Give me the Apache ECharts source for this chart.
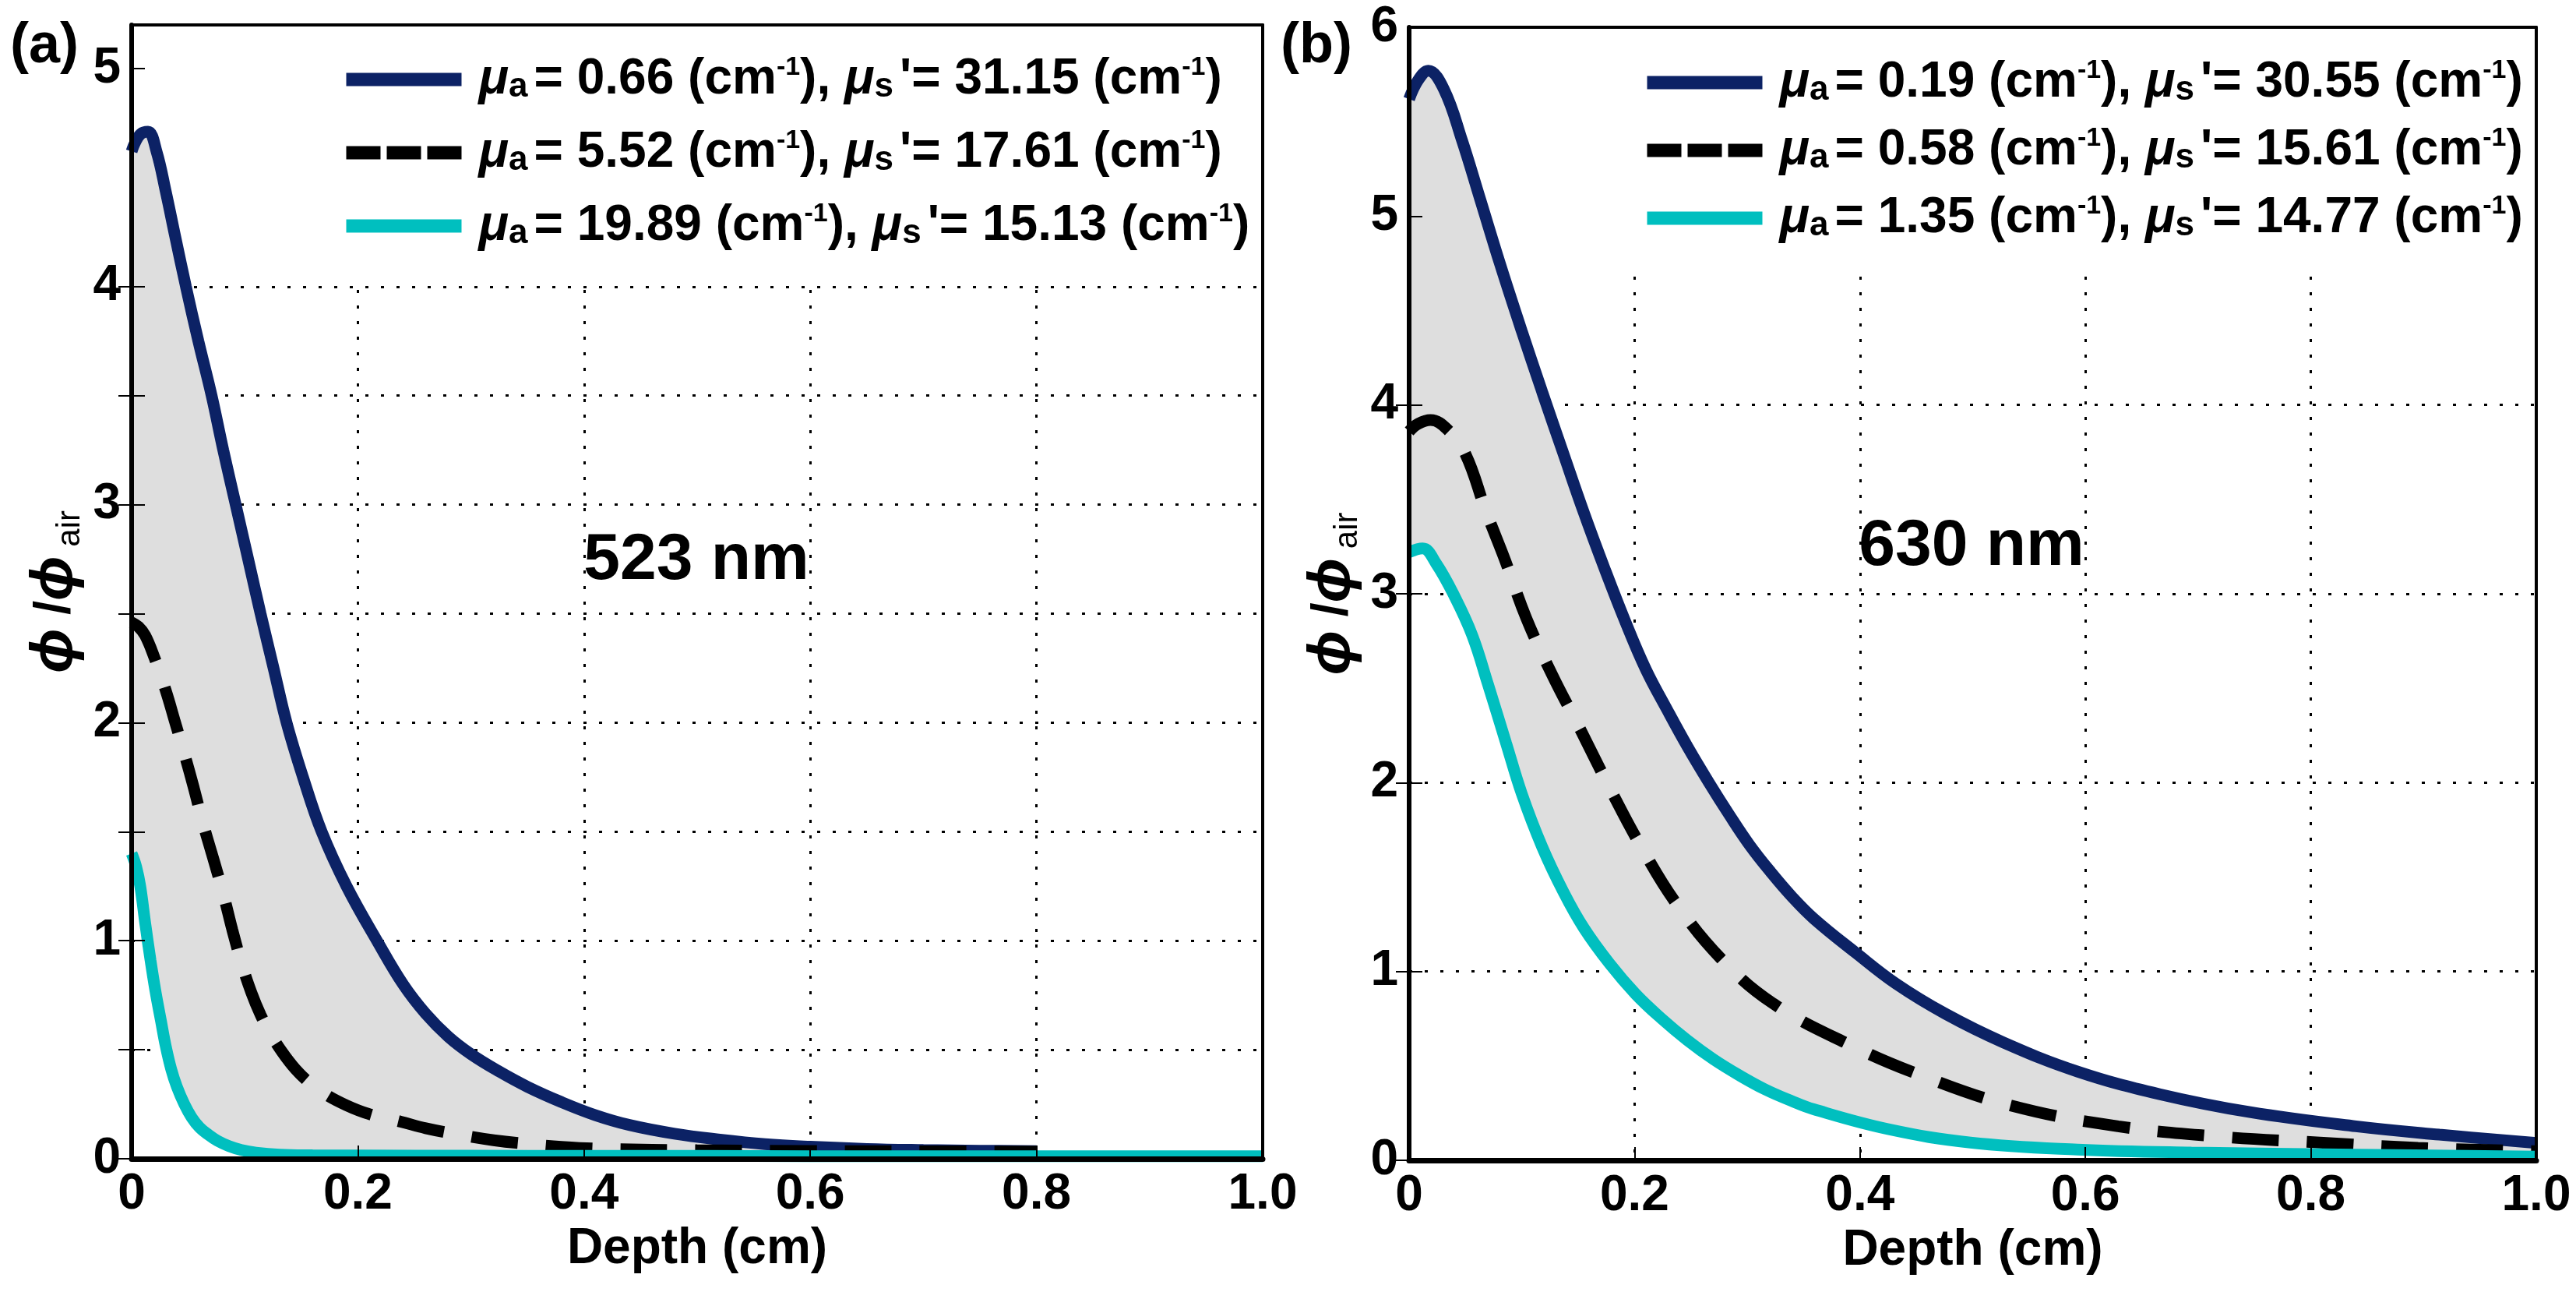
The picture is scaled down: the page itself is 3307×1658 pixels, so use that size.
<!DOCTYPE html>
<html>
<head>
<meta charset="utf-8">
<script src="https://cdn.jsdelivr.net/npm/echarts@6/dist/echarts.min.js"></script>
<style>
html, body { margin: 0; background: #fff; }
#chart { width: 3307px; height: 1658px; }
</style>
</head>
<body>
<div id="chart"></div>
<script>
// ---- data ----
// (a) 523 nm
const depthA_blue = [0, 0.003, 0.008, 0.0145, 0.022, 0.030, 0.0385, 0.048, 0.059, 0.0707, 0.081, 0.092, 0.103, 0.114, 0.1255, 0.137, 0.1515, 0.168, 0.19, 0.218, 0.24, 0.26, 0.28, 0.30, 0.325, 0.35, 0.38, 0.41, 0.44, 0.48, 0.52, 0.56, 0.6, 0.65, 0.7, 0.75, 0.8];
const phiA_blue = [4.62, 4.66, 4.70, 4.71, 4.62, 4.44, 4.23, 4.0, 3.75, 3.5, 3.25, 3.0, 2.75, 2.5, 2.25, 2.0, 1.75, 1.5, 1.25, 0.99, 0.80, 0.665, 0.56, 0.48, 0.40, 0.33, 0.26, 0.20, 0.155, 0.115, 0.088, 0.067, 0.055, 0.045, 0.04, 0.037, 0.035];
const depthA_black = [0, 0.006, 0.012, 0.02, 0.03, 0.038, 0.047, 0.055, 0.063, 0.072, 0.081, 0.089, 0.0976, 0.106, 0.114, 0.122, 0.133, 0.145, 0.157, 0.17, 0.19, 0.21, 0.238, 0.26, 0.29, 0.32, 0.35, 0.38, 0.42, 0.5, 0.6, 0.7, 0.8];
const phiA_black = [2.46, 2.44, 2.40, 2.30, 2.15, 2.01, 1.85, 1.70, 1.54, 1.38, 1.215, 1.05, 0.89, 0.76, 0.66, 0.58, 0.49, 0.41, 0.35, 0.30, 0.245, 0.205, 0.17, 0.14, 0.11, 0.085, 0.068, 0.055, 0.045, 0.039, 0.036, 0.034, 0.033];
const depthA_cyan = [0, 0.004, 0.0076, 0.012, 0.0167, 0.021, 0.026, 0.03, 0.035, 0.04, 0.0466, 0.053, 0.06, 0.068, 0.076, 0.086, 0.097, 0.11, 0.131, 0.16, 0.2, 0.3, 0.4, 0.5, 0.6, 0.7, 0.8, 0.9, 1.0];
const phiA_cyan = [1.40, 1.34, 1.25, 1.08, 0.91, 0.77, 0.63, 0.52, 0.41, 0.33, 0.25, 0.19, 0.144, 0.11, 0.082, 0.058, 0.04, 0.028, 0.019, 0.016, 0.015, 0.014, 0.013, 0.013, 0.012, 0.012, 0.012, 0.012, 0.012];

// (b) 630 nm
const depthB_blue = [0, 0.008, 0.017, 0.031, 0.047, 0.063, 0.081, 0.10, 0.118, 0.137, 0.155, 0.173, 0.192, 0.21, 0.229, 0.247, 0.266, 0.284, 0.302, 0.321, 0.339, 0.359, 0.396, 0.432, 0.476, 0.527, 0.593, 0.666, 0.746, 0.84, 0.914, 1.0];
const phiB_blue = [5.62, 5.72, 5.77, 5.67, 5.40, 5.09, 4.74, 4.39, 4.07, 3.74, 3.43, 3.14, 2.85, 2.60, 2.385, 2.19, 2.0, 1.83, 1.67, 1.525, 1.40, 1.28, 1.10, 0.935, 0.775, 0.625, 0.47, 0.35, 0.255, 0.18, 0.136, 0.092];
const depthB_black = [0, 0.008, 0.019, 0.034, 0.050, 0.068, 0.085, 0.104, 0.127, 0.152, 0.179, 0.205, 0.237, 0.278, 0.323, 0.388, 0.454, 0.534, 0.629, 0.72, 0.808, 0.895, 1.0];
const phiB_black = [3.86, 3.90, 3.92, 3.87, 3.74, 3.44, 3.18, 2.87, 2.57, 2.28, 1.96, 1.67, 1.36, 1.06, 0.83, 0.62, 0.45, 0.29, 0.18, 0.125, 0.094, 0.066, 0.048];
const depthB_cyan = [0, 0.012, 0.024, 0.040, 0.056, 0.070, 0.086, 0.10, 0.118, 0.137, 0.155, 0.178, 0.201, 0.224, 0.247, 0.270, 0.293, 0.316, 0.339, 0.359, 0.425, 0.498, 0.593, 0.694, 0.84, 1.0];
const phiB_cyan = [3.22, 3.24, 3.16, 2.99, 2.78, 2.52, 2.21, 1.94, 1.66, 1.42, 1.23, 1.04, 0.88, 0.75, 0.635, 0.535, 0.45, 0.375, 0.315, 0.27, 0.165, 0.094, 0.057, 0.041, 0.03, 0.02];

// legend values
const muA_a = ['0.66', '5.52', '19.89'];
const muS_a = ['31.15', '17.61', '15.13'];
const muA_b = ['0.19', '0.58', '1.35'];
const muS_b = ['30.55', '15.61', '14.77'];

const panelLabels = ['(a)', '(b)'];
const wavelengths = ['523 nm', '630 nm'];
const yMax = [5.2, 6];
const yStep = [0.5, 1];
// tick values actually drawn on each frame
const leftTicks = [[0, 0.5, 1, 1.5, 2, 2.5, 3, 3.5, 4, 5], [0, 1, 2, 3, 4, 5, 6]];
const leftLabels = [[0, 1, 2, 3, 4, 5], [0, 1, 2, 3, 4, 5, 6]];
const rightTicks = [[0, 0.5, 1, 1.5, 2, 2.5, 3, 3.5, 4], [0, 1, 2, 3, 4]];
// lower edge of the white legend panel, in data units
const panelBottom = [4.02, 4.69];

// ---- styles ----
const FONT = '"Liberation Sans", Arial, "DejaVu Sans", sans-serif';
const NAVY = '#0c2265', CYAN = '#00bfbf', BLACK = '#000000', FILL = '#dedede';
const DASH = [60, 36];

function pairs(xs, ys) {
    return xs.map((x, i) => [x, ys[i]]);
}

// polygon between the upper and the lower curve
function band(top, bottom) {
    let xEnd = top[top.length - 1][0];
    let low = bottom.filter(p => p[0] <= xEnd + 1e-9).reverse();
    return top.concat(low);
}

const RICH = {
    t: {fontSize: 64, fontWeight: 'bold', fontFamily: FONT, lineHeight: 64, color: '#000'},
    mu: {fontSize: 64, fontWeight: 'bold', fontStyle: 'italic', fontFamily: FONT, lineHeight: 64, color: '#000'},
    sub: {fontSize: 44, fontWeight: 'bold', fontFamily: FONT, lineHeight: 24, verticalAlign: 'bottom', padding: [0, 8, 0, 0], color: '#000'},
    sup: {fontSize: 34, fontWeight: 'bold', fontFamily: FONT, lineHeight: 16, verticalAlign: 'top', color: '#000'}
};

function legendText(name) {
    let p = name.split('|');
    return '{mu|μ}{sub|a}{t|= ' + p[1] + ' (cm}{sup|-1}{t|), }{mu|μ}{sub|s}{t|\'= ' + p[2] + ' (cm}{sup|-1}{t|)}';
}

const curves = [
    [pairs(depthA_blue, phiA_blue), pairs(depthA_black, phiA_black), pairs(depthA_cyan, phiA_cyan)],
    [pairs(depthB_blue, phiB_blue), pairs(depthB_black, phiB_black), pairs(depthB_cyan, phiB_cyan)]
];
const names = [
    muA_a.map((v, i) => 'a|' + v + '|' + muS_a[i]),
    muA_b.map((v, i) => 'b|' + v + '|' + muS_b[i])
];
const colors = [NAVY, BLACK, CYAN];
const types = ['solid', DASH, 'solid'];

const labelStyle = {fontSize: 64, fontWeight: 'bold', fontFamily: FONT, color: '#000'};
const hidden = {show: false};
const tickStyle = {color: '#000', width: 2};

let xAxis = [], yAxis = [], series = [], legend = [];

[0, 1].forEach(function(g) {
    let base = {gridIndex: g, type: 'value', min: 0, max: 1, interval: 0.2};
    xAxis.push(Object.assign({}, base, {
        position: 'bottom', z: 0, axisLine: hidden, axisTick: hidden, axisLabel: hidden,
        splitLine: {show: true, lineStyle: {color: '#000', width: 3, type: [4, 16]}}
    }));
    xAxis.push(Object.assign({}, base, {
        position: 'bottom', z: 5,
        axisLine: {show: true, onZero: false, lineStyle: {color: '#000', width: 7}},
        axisTick: {show: true, inside: true, length: 17, lineStyle: tickStyle},
        axisLabel: Object.assign({margin: 14, formatter: v => v === 0 ? '0' : v.toFixed(1)}, labelStyle),
        splitLine: hidden,
        name: 'Depth (cm)', nameLocation: 'middle', nameGap: 84, nameTextStyle: labelStyle
    }));
    xAxis.push(Object.assign({}, base, {
        position: 'top', z: 5, axisLine: {show: true, onZero: false, lineStyle: {color: '#000', width: 4}},
        axisTick: hidden, axisLabel: hidden, splitLine: hidden
    }));

    let ybase = {gridIndex: g, type: 'value', min: 0, max: yMax[g], interval: yStep[g]};
    yAxis.push(Object.assign({}, ybase, {
        position: 'left', z: 0, axisLine: hidden, axisTick: hidden, axisLabel: hidden,
        splitLine: {show: true, lineStyle: {color: '#000', width: 3, type: [4, 16]}}
    }));
    yAxis.push(Object.assign({}, ybase, {
        position: 'left', z: 5,
        axisLine: {show: true, onZero: false, lineStyle: {color: '#000', width: 6}},
        axisTick: {show: true, inside: true, length: 17, lineStyle: tickStyle, customValues: leftTicks[g]},
        axisLabel: Object.assign({margin: 14, customValues: leftLabels[g], formatter: v => String(v)}, labelStyle),
        splitLine: hidden,
        name: '{phi|ϕ}{sl| /}{phi|ϕ}{sub| air}', nameLocation: 'middle', nameRotate: 90, nameGap: 58,
        nameTextStyle: {
            rich: {
                phi: {fontSize: 76, fontStyle: 'italic', fontWeight: 'bold', fontFamily: FONT, lineHeight: 80, color: '#000'},
                sl: {fontSize: 64, fontWeight: 'bold', fontFamily: FONT, lineHeight: 80, color: '#000'},
                sub: {fontSize: 42, fontFamily: FONT, lineHeight: 27, verticalAlign: 'bottom', color: '#000'}
            }
        }
    }));
    yAxis.push(Object.assign({}, ybase, {
        position: 'right', z: 3, axisLine: hidden,
        axisTick: {show: true, inside: true, length: 17, lineStyle: tickStyle, customValues: rightTicks[g]},
        axisLabel: hidden, splitLine: hidden
    }));
    yAxis.push(Object.assign({}, ybase, {
        position: 'right', z: 5, axisLine: {show: true, onZero: false, lineStyle: {color: '#000', width: 4}},
        axisTick: hidden, axisLabel: hidden, splitLine: hidden
    }));

    // white legend panel: hides the grid behind it, sits under the curves
    let top = yMax[g], bottom = panelBottom[g];
    series.push({
        type: 'custom', xAxisIndex: 3 * g, yAxisIndex: 4 * g, z: 1, silent: true,
        data: [[0, top]],
        renderItem: function(params, api) {
            let a = api.coord([0, top]), b = api.coord([1, bottom]);
            return {type: 'rect', shape: {x: a[0], y: a[1], width: b[0] - a[0], height: b[1] - a[1]}, style: {fill: '#fff'}};
        }
    });

    let area = band(curves[g][0], curves[g][2]);
    series.push({
        type: 'custom', xAxisIndex: 3 * g, yAxisIndex: 4 * g, z: 1.5, silent: true,
        data: [[0, 0]],
        renderItem: function(params, api) {
            return {
                type: 'polygon',
                shape: {points: area.map(p => api.coord(p))},
                style: {fill: FILL}
            };
        }
    });
    curves[g].forEach(function(pts, k) {
        series.push({
            type: 'line', name: names[g][k], xAxisIndex: 3 * g, yAxisIndex: 4 * g, z: 2,
            data: pts, symbol: 'none', showSymbol: false, smooth: 0.4,
            lineStyle: {color: colors[k], width: 15, type: types[k]},
            itemStyle: {color: colors[k]}
        });
    });

    legend.push({
        data: names[g].map((n, k) => k === 1 ? {name: n, lineStyle: {type: [44, 8]}} : {name: n}),
        orient: 'vertical',
        left: g === 0 ? 411 : 2083,
        top: g === 0 ? 32 : 35,
        padding: g === 0 ? [38, 30, 45, 25] : [39, 25, 43, 23],
        itemGap: g === 0 ? 30 : 23,
        itemWidth: 148, itemHeight: 17,
        selectedMode: false,
        lineStyle: {width: 17},
        itemStyle: {opacity: 0},
        formatter: legendText,
        textStyle: {padding: [0, 0, 0, 17], rich: RICH, fontSize: 64, fontWeight: 'bold', fontFamily: FONT, color: '#000'}
    });
});

const chart = echarts.init(document.getElementById('chart'));
chart.setOption({
    animation: false,
    backgroundColor: '#fff',
    grid: [
        {left: 169, top: 32, width: 1452, height: 1455, show: false},
        {left: 1809, top: 35, width: 1447, height: 1454, show: false}
    ],
    xAxis: xAxis,
    yAxis: yAxis,
    legend: legend,
    series: series,
    graphic: [
        {type: 'text', x: 57, y: 60, style: {text: panelLabels[0], fontSize: 72, fontWeight: 'bold', fontFamily: FONT, fill: '#000', align: 'center', verticalAlign: 'middle'}},
        {type: 'text', x: 1690, y: 60, style: {text: panelLabels[1], fontSize: 72, fontWeight: 'bold', fontFamily: FONT, fill: '#000', align: 'center', verticalAlign: 'middle'}},
        {type: 'text', x: 894, y: 720, z: 10, style: {text: wavelengths[0], fontSize: 84, fontWeight: 'bold', fontFamily: FONT, fill: '#000', align: 'center', verticalAlign: 'middle'}},
        {type: 'text', x: 2531, y: 702, z: 10, style: {text: wavelengths[1], fontSize: 84, fontWeight: 'bold', fontFamily: FONT, fill: '#000', align: 'center', verticalAlign: 'middle'}}
    ]
});
</script>
</body>
</html>
